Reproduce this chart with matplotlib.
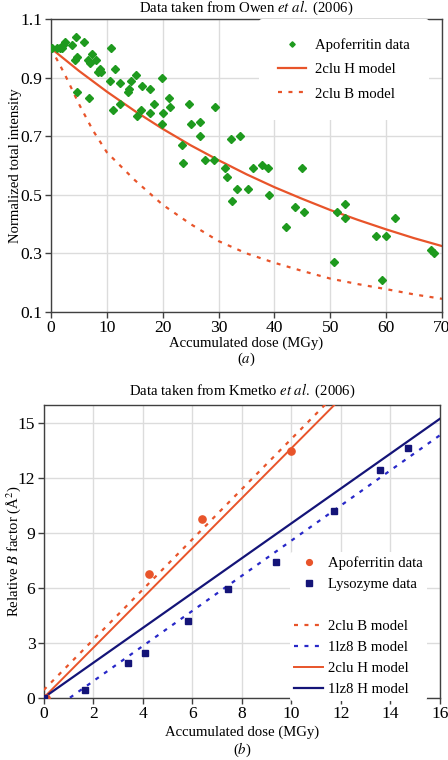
import matplotlib
matplotlib.use("Agg")
import matplotlib.pyplot as plt
from matplotlib.lines import Line2D

plt.rcParams['font.family'] = ['Liberation Serif', 'DejaVu Serif']
plt.rcParams['mathtext.fontset'] = 'stix'

# ---------------- Panel (a) data ----------------
apo_a_x = [0.2, 1.0, 1.6, 1.9, 2.2, 2.5, 3.8, 4.5, 4.3, 4.7, 4.6, 5.9, 6.7, 7.0, 7.4,
           8.0, 6.8, 8.5, 8.8, 9.0, 10.7, 10.5, 11.1, 11.4, 12.3, 12.4, 13.7, 14.0,
           14.4, 15.3, 15.4, 16.1, 16.3, 17.7, 17.8, 18.5, 19.9, 20.0, 19.8, 21.1,
           21.3, 23.5, 23.7, 24.7, 25.0, 26.6, 26.6, 27.5, 29.4, 29.2, 31.2, 31.5,
           32.2, 33.9, 36.2, 37.8, 38.8, 44.9, 32.4, 33.3, 35.2, 39.1, 42.0, 43.7,
           45.3, 50.7, 51.2, 52.7, 52.7, 58.1, 59.9, 59.3, 61.5, 68.0, 68.6]
apo_a_y = [1.00, 1.00, 1.00, 1.00, 1.01, 1.02, 1.01, 1.04, 0.96, 0.97, 0.85, 1.02, 0.96,
           0.95, 0.98, 0.96, 0.83, 0.92, 0.93, 0.92, 1.00, 0.89, 0.79, 0.93, 0.81, 0.88,
           0.85, 0.86, 0.89, 0.91, 0.77, 0.79, 0.87, 0.86, 0.78, 0.81, 0.90, 0.78, 0.74,
           0.83, 0.80, 0.67, 0.61, 0.81, 0.74, 0.75, 0.70, 0.62, 0.80, 0.62, 0.59, 0.56,
           0.69, 0.70, 0.59, 0.60, 0.59, 0.59, 0.48, 0.52, 0.52, 0.50, 0.39, 0.46, 0.44,
           0.27, 0.44, 0.47, 0.42, 0.36, 0.36, 0.21, 0.42, 0.31, 0.30]

h_a_x = [0, 5, 10, 15, 20, 25, 30, 35, 40, 45, 50, 55, 60, 65, 70]
h_a_y = [1.0, 0.923, 0.852, 0.786, 0.725, 0.669, 0.618, 0.570, 0.526, 0.486, 0.448,
         0.414, 0.382, 0.352, 0.325]

b_a_x = [0, 2.5, 5, 7.5, 10, 15, 20, 25, 30, 35, 40, 45, 50, 55, 60, 65, 70]
b_a_y = [1.0, 0.91, 0.81, 0.72, 0.645, 0.55, 0.466, 0.40, 0.342, 0.30, 0.268, 0.24,
         0.214, 0.195, 0.178, 0.16, 0.145]

xticks_a = [0, 10, 20, 30, 40, 50, 60, 70]
yticks_a = [0.1, 0.3, 0.5, 0.7, 0.9, 1.1]
ytick_labels_a = ['0.1', '0.3', '0.5', '0.7', '0.9', '1.1']

# ---------------- Panel (b) data ----------------
apo_b_x = [0.1, 4.24, 6.39, 10.0]
apo_b_y = [0.0, 6.75, 9.75, 13.48]

lys_b_x = [0.03, 1.65, 3.41, 4.07, 5.83, 7.45, 9.36, 11.74, 13.57, 14.70]
lys_b_y = [0.0, 0.42, 1.88, 2.47, 4.17, 5.96, 7.41, 10.21, 12.46, 13.67]

clu_b_model_x = [0, 11.75]
clu_b_model_y = [0.42, 16.55]
lz8_b_model_x = [1.06, 16]
lz8_b_model_y = [0.0, 14.35]
clu_h_model_x = [0, 12.1]
clu_h_model_y = [0.0, 16.5]
lz8_h_model_x = [0, 16]
lz8_h_model_y = [0.0, 15.25]

xticks_b = [0, 2, 4, 6, 8, 10, 12, 14, 16]
yticks_b = [0, 3, 6, 9, 12, 15]

ORANGE = '#E8542A'
GREEN = '#1E9A1E'
NAVY = '#141478'
BLUE = '#2828C8'
SPINE = '#404040'
GRID = '#DCDCDC'
FS = 10.6
TFS = 12.6
DOT = (0, (1.8, 2.9))

fig = plt.figure(figsize=(4.48, 7.6), dpi=100)


def style(ax):
    ax.grid(True, color=GRID, linewidth=1.0)
    ax.set_axisbelow(True)
    for s in ax.spines.values():
        s.set_color(SPINE)
        s.set_linewidth(1.0)
    ax.tick_params(direction='out', length=4, width=1, color=SPINE,
                   labelsize=TFS, pad=2)


# ---- Panel (a)
AX1 = (51, 19, 442, 312)  # left, top, right, bottom in pixels
ax1 = fig.add_axes([AX1[0] / 448, 1 - AX1[3] / 760, (AX1[2] - AX1[0]) / 448,
                    (AX1[3] - AX1[1]) / 760])
style(ax1)
ax1.plot(apo_a_x, apo_a_y, linestyle='none', marker='D', ms=4.2, color=GREEN,
         label='Apoferritin data', zorder=3)
ax1.plot(h_a_x, h_a_y, color=ORANGE, lw=1.6, label='2clu H model', zorder=2)
ax1.plot(b_a_x, b_a_y, color=ORANGE, lw=1.6, linestyle=DOT,
         label='2clu B model', zorder=2)
ax1.set_xlim(0, 70)
ax1.set_ylim(0.1, 1.1)
ax1.set_xticks(xticks_a)
ax1.set_yticks(yticks_a)
ax1.set_yticklabels(ytick_labels_a)
ax1.set_xlabel('Accumulated dose (MGy)', fontsize=FS)
ax1.xaxis.set_label_coords(0.5, (312 - 337) / 293)
ax1.set_ylabel('Normalized total intensity', fontsize=FS)
ax1.yaxis.set_label_coords((21.5 - 51) / 391, 0.5)
fig.text(0.5 * (51 + 442) / 448, 1 - 8 / 760,
         'Data taken from Owen $\\it{et\\ al.}$ (2006)', ha='center', va='center',
         fontsize=FS)
leg1 = ax1.legend(loc='upper right', bbox_to_anchor=((429 - 51) / 391, 1.0),
                  frameon=True, fontsize=FS, markerscale=0.65,
                  handlelength=1.9, handletextpad=0.6, labelspacing=0.75,
                  borderpad=1.3, borderaxespad=0.0)
leg1.get_frame().set_edgecolor('none')
leg1.get_frame().set_facecolor('white')
leg1.get_frame().set_alpha(1)
fig.text(0.5 * (51 + 442) / 448, 1 - 359 / 760, '($\\it{a}$)', ha='center',
         va='center', fontsize=FS)

# ---- Panel (b)
ax2 = fig.add_axes([43.7 / 448, 1 - 697.7 / 760, 396.3 / 448, 292.7 / 760])
style(ax2)
h_apo, = ax2.plot(apo_b_x, apo_b_y, linestyle='none', marker='o', ms=5.2,
                  color=ORANGE, zorder=4)
h_lys, = ax2.plot(lys_b_x, lys_b_y, linestyle='none', marker='s', ms=4.6,
                  color=NAVY, zorder=4)
h_cb, = ax2.plot(clu_b_model_x, clu_b_model_y, color=ORANGE, lw=1.6,
                 linestyle=DOT, zorder=3)
h_lb, = ax2.plot(lz8_b_model_x, lz8_b_model_y, color=BLUE, lw=1.6,
                 linestyle=DOT, zorder=3)
h_ch, = ax2.plot(clu_h_model_x, clu_h_model_y, color=ORANGE, lw=1.4, zorder=3)
h_lh, = ax2.plot(lz8_h_model_x, lz8_h_model_y, color=NAVY, lw=1.6, zorder=3)
ax2.set_xlim(0, 16)
ax2.set_ylim(0, 16)
ax2.set_xticks(xticks_b)
ax2.set_yticks(yticks_b)
ax2.set_xlabel('Accumulated dose (MGy)', fontsize=FS)
ax2.xaxis.set_label_coords(0.5, (697.7 - 726) / 292.7)
ax2.set_ylabel('Relative $\\it{B}$ factor (Å$^2$)', fontsize=FS)
ax2.yaxis.set_label_coords((23 - 43.7) / 396.3, 0.5)
fig.text(0.5 * (43.7 + 440) / 448, 1 - 391 / 760,
         'Data taken from Kmetko $\\it{et\\ al.}$ (2006)', ha='center', va='center',
         fontsize=FS)
blank = Line2D([], [], linestyle='none', marker='none')
leg2 = ax2.legend([h_apo, h_lys, blank, h_cb, h_lb, h_ch, h_lh],
                  ['Apoferritin data', 'Lysozyme data', ' ', '2clu B model',
                   '1lz8 B model', '2clu H model', '1lz8 H model'],
                  loc='lower right', bbox_to_anchor=((427.4 - 43.7) / 396.3, -0.010),
                  frameon=True, fontsize=FS, markerscale=0.8,
                  handlelength=1.95, handletextpad=0.35, labelspacing=0.52,
                  borderpad=0.3, borderaxespad=0.0)
leg2.get_frame().set_edgecolor('none')
leg2.get_frame().set_facecolor('white')
leg2.get_frame().set_alpha(1)
fig.text(0.5 * (43.7 + 440) / 448, 1 - 750 / 760, '($\\it{b}$)', ha='center',
         va='center', fontsize=FS)

fig.savefig('out.png', dpi=100)
